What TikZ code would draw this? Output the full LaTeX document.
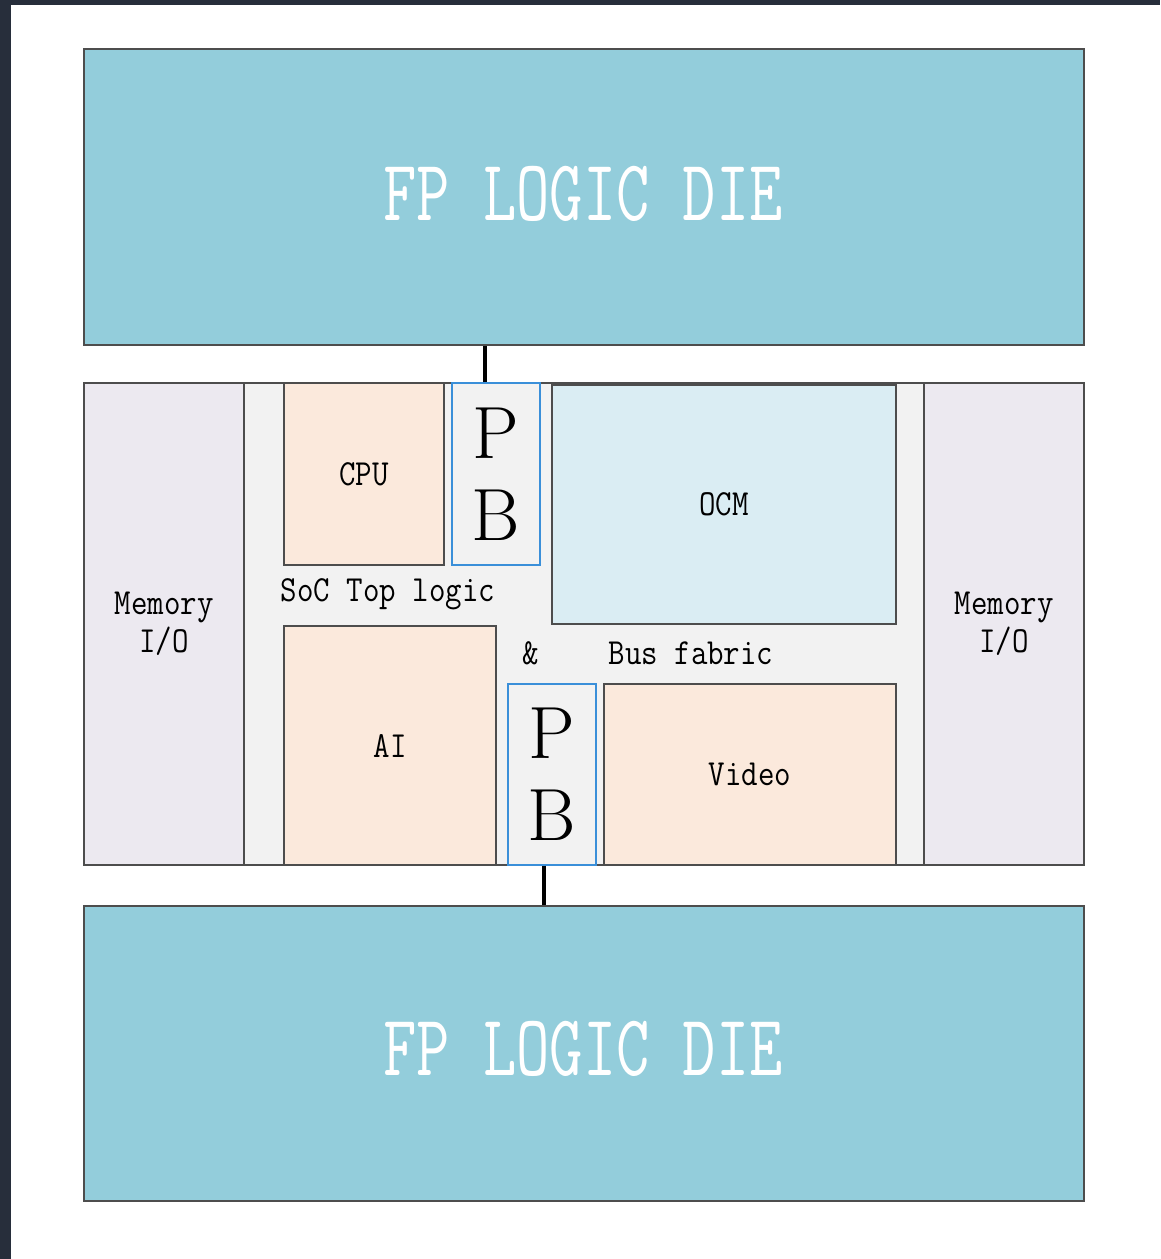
\documentclass[tikz,border=0pt]{standalone}
\usepackage{fontspec}
\definecolor{frame}{HTML}{272E3B}
\definecolor{die}{HTML}{93CDDB}
\definecolor{midbg}{HTML}{F2F2F2}
\definecolor{mem}{HTML}{ECE9F0}
\definecolor{peach}{HTML}{FBE9DC}
\definecolor{ocm}{HTML}{DAEDF3}
\definecolor{pbblue}{HTML}{3A8FD9}
\definecolor{edge}{HTML}{4D4D4D}
\newcommand{\tl}[1]{\scalebox{1}[1.15]{#1}}
\tikzset{
  blk/.style={draw=edge, line width=2.2pt, inner sep=0pt, anchor=north west, align=center,
    font=\ttfamily\fontsize{32}{38}\selectfont},
  pbbox/.style={draw=pbblue, line width=1.6pt, fill=midbg, inner sep=0pt, anchor=north west, align=center,
    font=\rmfamily\fontsize{74}{82}\selectfont},
  lbl/.style={font=\ttfamily\fontsize{32}{38}\selectfont, inner sep=0pt},
  conn/.style={draw=black, line width=3.5pt},
  bigtxt/.style={text=white, font=\ttfamily\fontsize{64}{70}\selectfont}
}
\begin{document}
\begin{tikzpicture}[x=1pt,y=-1pt]
\useasboundingbox (0,0) rectangle (1160,1259);
\fill[white] (0,0) rectangle (1160,1259);
\fill[frame] (0,0) rectangle (11,1259);
\fill[frame] (0,0) rectangle (1160,4.5);

% dies
\node[blk, fill=die, minimum width=1000pt, minimum height=296pt] (topdie) at (83,48) {};
\node[bigtxt] (toptxt) at (583,194) {\scalebox{1.01}[1.36]{FP LOGIC DIE}};
\node[blk, fill=die, minimum width=1000pt, minimum height=295pt] (botdie) at (83,905) {};
\node[bigtxt] (bottxt) at (583,1049) {\scalebox{1.01}[1.36]{FP LOGIC DIE}};

% middle SoC area
\node[blk, fill=midbg, minimum width=1000pt, minimum height=482pt] (soc) at (83,382) {};
\node[blk, fill=mem, minimum width=160pt, minimum height=482pt] (memL) at (83,382) {\tl{Memory}\\\tl{I/O}};
\node[blk, fill=mem, minimum width=160pt, minimum height=482pt] (memR) at (923,382) {\tl{Memory}\\\tl{I/O}};

\node[blk, fill=peach, minimum width=160pt, minimum height=182pt] (cpu) at (283,382) {\tl{CPU}};
\node[pbbox, minimum width=88pt, minimum height=182pt] (pbt) at (451,382) {P\\B};
\node[blk, fill=ocm, minimum width=344pt, minimum height=239pt] (ocmb) at (551,384) {\tl{OCM}};

\node[blk, fill=peach, minimum width=212pt, minimum height=239pt] (ai) at (283,625) {\tl{AI}};
\node[pbbox, minimum width=88pt, minimum height=181pt] (pbb) at (507,683) {P\\B};
\node[blk, fill=peach, minimum width=292pt, minimum height=181pt] (video) at (603,683) {\tl{Video}};

\node[lbl] (soclbl) at (388,594) {\tl{SoC Top logic}};
\node[lbl] (amp) at (531,653) {\tl{\&}};
\node[lbl] (buslbl) at (691,653) {\tl{Bus fabric}};

% connectors
\draw[conn] ([xshift=-11pt]pbt.north) -- ([xshift=-11pt]pbt.north |- topdie.south);
\draw[conn] ([xshift=-8pt]pbb.south) -- ([xshift=-8pt]pbb.south |- botdie.north);
\end{tikzpicture}
\end{document}
